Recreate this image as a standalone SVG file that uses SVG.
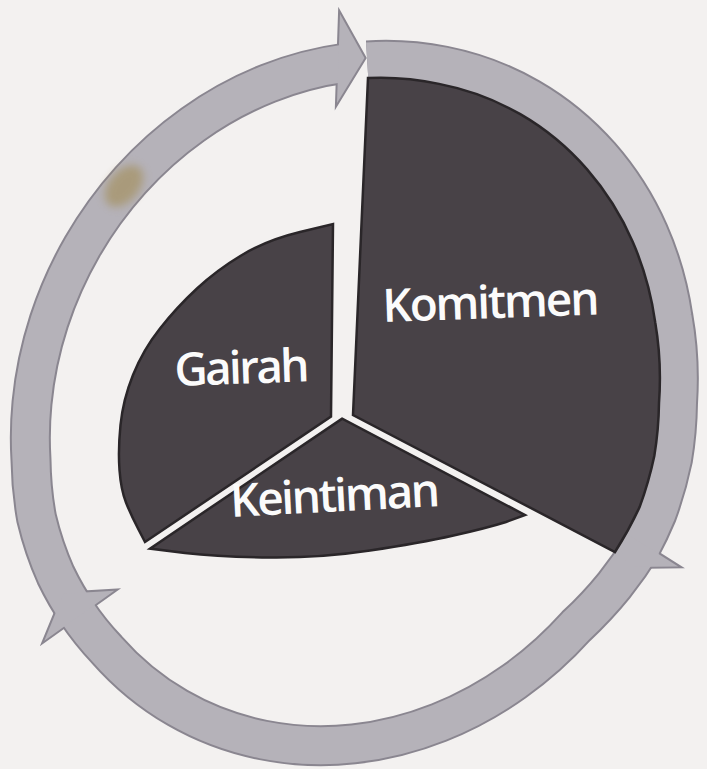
<svg xmlns="http://www.w3.org/2000/svg" xmlns:xlink="http://www.w3.org/1999/xlink" width="707" height="769" viewBox="0 0 707 769">
<defs>
<style>
.ring-edge{fill:none;stroke:#8a8690;stroke-width:41;stroke-linecap:butt;stroke-linejoin:round}
.ring{fill:none;stroke:#b5b2b9;stroke-width:37;stroke-linecap:butt;stroke-linejoin:round}
.head-edge{fill:#8a8690;stroke:#8a8690;stroke-width:4;stroke-linejoin:miter}
.head{fill:#b5b2b9;stroke:none}
.sector{fill:#484247;stroke:#2a2629;stroke-width:2.5;stroke-linejoin:miter}
.label{font-family:"Open Sans","Noto Sans","DejaVu Sans",sans-serif;font-weight:600;font-size:46px;fill:#fbfbfb}
</style>
<filter id="blur" x="-50%" y="-50%" width="200%" height="200%"><feGaussianBlur stdDeviation="4"/></filter>
<path id="seg1" d="M367.2,60.9 A352,313 -60 0 1 443.8,66 A352,313 -60 0 1 529.5,98.2 A352,313 -60 0 1 600.2,156.3 A352,313 -60 0 1 648.7,232.5 A352,313 -60 0 1 673,317.4 A352,313 -60 0 1 677.5,403 A352,313 -60 0 1 672.5,459.2 A352,313 -60 0 1 657,513.5 A352,313 -60 0 1 640.4,548.4"/>
<path id="seg2" d="M643.1,544.2 A352,313 -60 0 1 614.2,585.5 A352,313 -60 0 1 576.4,625.9 A352,313 -60 0 1 514.3,681.4 A352,313 -60 0 1 439.1,722.5 A352,313 -60 0 1 353.5,743.9 A352,313 -60 0 1 263.2,740 A352,313 -60 0 1 177.5,707.8 A352,313 -60 0 1 106.8,649.7 A352,313 -60 0 1 76.4,611.6"/>
<path id="seg3" d="M79.3,615.7 A352,313 -60 0 1 55.7,575 A352,313 -60 0 1 36.6,518.3 A352,313 -60 0 1 31,459.9 A352,313 -60 0 1 32,403 A352,313 -60 0 1 49,321.4 A352,313 -60 0 1 82.4,246.5 A352,313 -60 0 1 130.6,180.1 A352,313 -60 0 1 192.8,124.6 A352,313 -60 0 1 267.9,83.5 A352,313 -60 0 1 344.6,63.2"/>
<polygon id="head1" points="340,14 364.5,58 337,103"/>
<polygon id="head2" points="608,522 678.2,566.4 628.7,567"/>
<polygon id="head3" points="114.3,590.7 44.3,640.7 63.6,593.7"/>
</defs>
<rect width="707" height="769" fill="#f3f1f0"/>
<g id="connectors">
<use xlink:href="#seg1" class="ring-edge"/>
<use xlink:href="#seg2" class="ring-edge"/>
<use xlink:href="#seg3" class="ring-edge"/>
<use xlink:href="#head1" class="head-edge"/>
<use xlink:href="#head2" class="head-edge"/>
<use xlink:href="#head3" class="head-edge"/>
<use xlink:href="#seg1" class="ring"/>
<use xlink:href="#seg2" class="ring"/>
<use xlink:href="#seg3" class="ring"/>
<use xlink:href="#head1" class="head"/>
<use xlink:href="#head2" class="head"/>
<use xlink:href="#head3" class="head"/>
<ellipse cx="124" cy="186" rx="15" ry="24" transform="rotate(40 124 186)" fill="#a08848" opacity="0.55" filter="url(#blur)"/>
</g>
<g id="komitmen">
<path class="sector" d="M353,415 L368,78 A333.5,294.5 -60 0 1 439,83.9 A333.5,294.5 -60 0 1 520.3,114.2 A333.5,294.5 -60 0 1 587.1,169.4 A333.5,294.5 -60 0 1 632.7,241.8 A333.5,294.5 -60 0 1 655.2,322.2 A333.5,294.5 -60 0 1 659,403 A333.5,294.5 -60 0 1 654.3,456 A333.5,294.5 -60 0 1 639.6,507.1 A333.5,294.5 -60 0 1 615,552 Z"/>
<text class="label" x="383" y="322" textLength="217" lengthAdjust="spacing" transform="rotate(-2 383 322)">Komitmen</text>
</g>
<g id="gairah">
<path class="sector" d="M331,416.6 L333,224 L300,232 Q267,240 242,255 Q217,270 197,288.5 Q177,307 160,328.5 Q143,350 133,375 Q123,400 120.5,425 Q118,450 119.5,470 Q121,490 126,502.5 Q131,515 138,528.5 L145,542 Z"/>
<text class="label" x="175" y="386" textLength="135" lengthAdjust="spacing" transform="rotate(-2 175 386)">Gairah</text>
</g>
<g id="keintiman">
<path class="sector" d="M342.2,418.6 L150,548.6 L185,553 Q220,557 270,557.5 Q320,558 370,550.5 Q420,543 453.5,535.5 Q487,528 506,522 L525,515 Z"/>
<text class="label" x="231" y="517" textLength="210" lengthAdjust="spacing" transform="rotate(-3 231 517)">Keintiman</text>
</g>
</svg>
